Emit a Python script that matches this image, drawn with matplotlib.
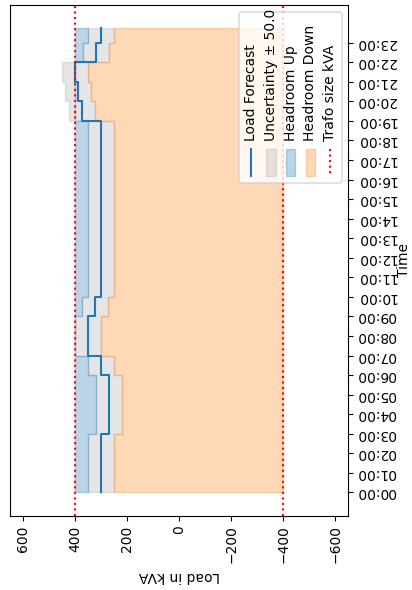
import numpy as np
import matplotlib
matplotlib.use("Agg")
import matplotlib.pyplot as plt
from matplotlib.patches import FancyBboxPatch, Rectangle
from matplotlib.lines import Line2D
from matplotlib.transforms import Affine2D

# -------------------------------------------------------------------------------------
# Data (hourly forecast, last interval ends at 23:45)
# -------------------------------------------------------------------------------------
hours = list(range(24))
end_hour = 23.75
hour_labels = [f"{h:02d}:00" for h in hours]
load_forecast = [300, 300, 300, 270, 270, 270, 300, 350, 350, 325, 300, 300,
                 300, 300, 300, 300, 300, 300, 300, 375, 390, 400, 320, 300]
uncertainty = 50.0
trafo_kva = 400
load_ticks = [600, 400, 200, 0, -200, -400, -600]
legend_labels = ["Load Forecast", f"Uncertainty \u00b1 {uncertainty}", "Headroom Up",
                 "Headroom Down", "Trafo size kVA"]

W, H = 412, 590
fig = plt.figure(figsize=(W / 100, H / 100), dpi=100)

# pixel coords, origin top-left
pix = Affine2D().scale(1 / 100, -1 / 100).translate(0, H / 100) + fig.dpi_scale_trans

ax = fig.add_axes([10.3 / W, 1 - 515.7 / H, (348.3 - 10.3) / W, (515.7 - 4.7) / H])

t = np.array(hours + [end_hour])
f = np.array(load_forecast + [load_forecast[-1]])
upper = f + uncertainty
lower = f - uncertainty

# Make plots (chart is drawn turned by 90 degrees)
ax.plot(f, t, drawstyle="steps-pre", color="tab:blue", linewidth=1.5)
ax.fill_betweenx(t, lower, upper, step="post", color="grey", alpha=0.2)
ax.fill_betweenx(t, np.minimum(upper, trafo_kva), trafo_kva, step="post",
                 color="tab:blue", alpha=0.3)
ax.fill_betweenx(t, lower, -trafo_kva, step="post", color="tab:orange", alpha=0.3)
ax.axvline(trafo_kva, color="red", linestyle=":", linewidth=1.5)
ax.axvline(-trafo_kva, color="red", linestyle=":", linewidth=1.5)

# Axes formats
ax.set_xlim(650, -650)
ax.set_xticks(load_ticks)
ax.tick_params(axis="x", labelrotation=90)
ax.set_xlabel("Load in kVA", rotation=180)

ax.yaxis.tick_right()
ax.yaxis.set_label_position("right")
ax.set_yticks(hours)
ax.set_yticklabels(hour_labels, rotation=180, va="center")
ax.tick_params(axis="y", pad=2.5)
ax.set_ylabel("Time", labelpad=0.5)

# -------------------------------------------------------------------------------------
# Legend, drawn by hand so it turns with the chart
# -------------------------------------------------------------------------------------
box = FancyBboxPatch((239, 12), 103, 171, boxstyle="round,pad=0,rounding_size=2.8",
                     facecolor="white", edgecolor="0.8", alpha=0.8, linewidth=1,
                     transform=pix, zorder=5)
fig.add_artist(box)

rows = [251, 270.8, 290.6, 310.4, 330.2]
h0, h1 = 149, 176
fig.add_artist(Line2D([rows[0], rows[0]], [h0, h1], color="tab:blue", linewidth=1.5,
                      transform=pix, zorder=6))
for r, c, a in [(rows[1], "grey", 0.2), (rows[2], "tab:blue", 0.3), (rows[3], "tab:orange", 0.3)]:
    fig.add_artist(Rectangle((r - 4.85, h0), 9.7, h1 - h0, color=c, alpha=a,
                             linewidth=1, transform=pix, zorder=6))
fig.add_artist(Line2D([rows[4], rows[4]], [h0, h1], color="red", linestyle=":",
                      linewidth=1.5, transform=pix, zorder=6))

for r, lab in zip(rows, legend_labels):
    fig.text(r, 141, lab, rotation=90, ha="center", va="bottom", transform=pix,
             zorder=7)

fig.savefig("out.png", dpi=100)
